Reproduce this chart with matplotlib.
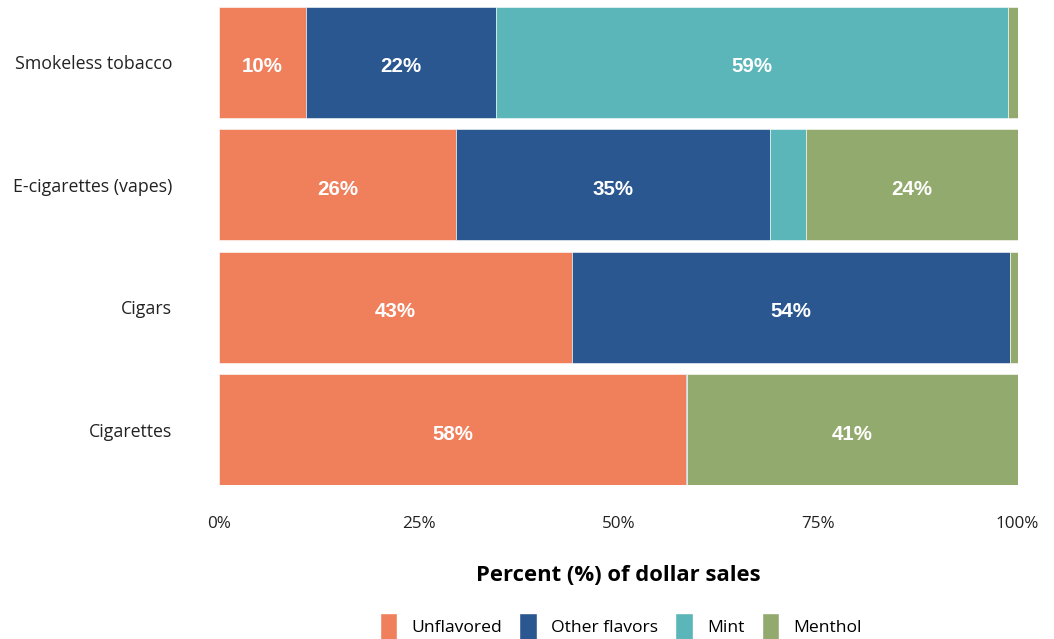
import numpy as np
import matplotlib.pyplot as plt
from matplotlib.patches import Patch

# products, top to bottom
products = ['Smokeless tobacco', 'E-cigarettes (vapes)', 'Cigars', 'Cigarettes']
flavors = ['Unflavored', 'Other flavors', 'Mint', 'Menthol']

# share of dollar sales (%) per flavor
unflavored = [10.0, 26.4, 43.4, 58.0]
other_flavors = [22.0, 35.0, 53.9, 0.2]
mint = [59.2, 4.0, 0.0, 0.0]
menthol = [1.1, 23.6, 0.9, 41.1]

colors = ['#F07F5C', '#2B5791', '#5AB6B9', '#93AA6E']
x_ticks = [0, 25, 50, 75, 100]

series = np.array([unflavored, other_flavors, mint, menthol])
# bars are drawn scaled to 100% of the plotted flavors
totals = series.sum(axis=0)
scaled = series / totals * 100

fig = plt.figure(figsize=(10.54, 6.39), dpi=100)
ax = fig.add_axes([0.208, 0.241, 0.7574, 0.748])

y = np.arange(len(products))
left = np.zeros(len(products))
for i, name in enumerate(flavors):
    ax.barh(y, scaled[i], left=left, height=0.906, color=colors[i],
            edgecolor='white', linewidth=0.4, label=name)
    for j in range(len(products)):
        if series[i, j] >= 8:
            ax.text(left[j] + scaled[i, j] / 2, y[j] + 0.02, '%d%%' % round(series[i, j]),
                    ha='center', va='center_baseline', color='white', fontsize=14.8,
                    fontweight='bold', family='Liberation Sans')
    left += scaled[i]

ax.set_xlim(0, 100)
ax.set_ylim(len(products) - 0.547, -0.453)
ax.set_yticks(y)
ax.set_yticklabels(products, fontsize=12.8, family='Open Sans', color='#222222')
ax.set_xticks(x_ticks)
ax.set_xticklabels(['%d%%' % t for t in x_ticks], fontsize=12.3, family='Open Sans',
                   color='#222222')
ax.tick_params(axis='both', length=0)
ax.tick_params(axis='x', pad=22)
ax.tick_params(axis='y', pad=34)
for s in ax.spines.values():
    s.set_visible(False)

ax.set_xlabel('Percent (%) of dollar sales', fontsize=15.8, fontweight='bold',
              family='Open Sans', labelpad=24)

handles = [Patch(facecolor=c, edgecolor='white') for c in colors]
fig.legend(handles, flavors, loc='center', bbox_to_anchor=(0.589, 0.02),
           ncol=4, frameon=False, handlelength=1.0,
           handleheight=2.0, handletextpad=0.8, columnspacing=1.0,
           prop={'family': 'Open Sans', 'size': 12.6})

fig.savefig('out.png', dpi=100)
